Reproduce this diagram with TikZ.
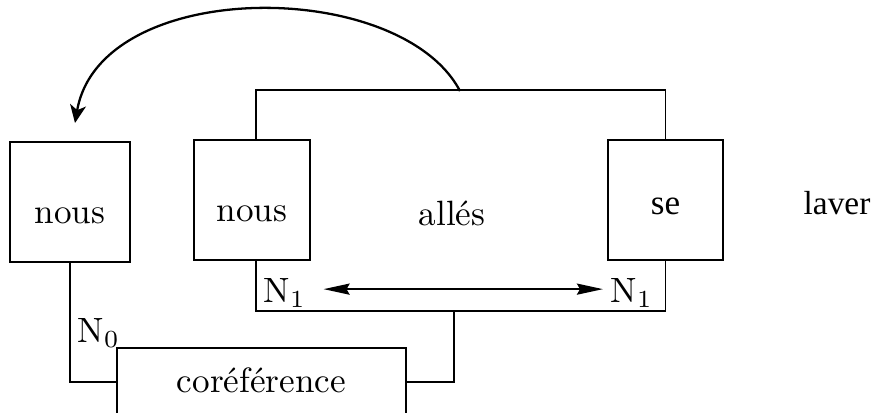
\documentclass[tikz,border=0pt]{standalone}
\usepackage{fontspec}
\newfontfamily\timesfont{Liberation Serif}
\usetikzlibrary{arrows.meta}

\begin{document}
\begin{tikzpicture}[
    wordbox/.style={draw=black, line width=0.5pt, minimum width=1.2cm, minimum height=1.2cm, inner sep=0pt, text height=0.42cm, text depth=0pt},
    wire/.style={line width=0.5pt, draw=black},
    linkarrow/.style={line width=0.65pt, draw=black, {Stealth[length=2.6mm,width=1.1mm,inset=0.3mm]}-{Stealth[length=2.6mm,width=1.1mm,inset=0.3mm]}},
    backarrow/.style={line width=0.65pt, draw=black, -{Stealth[length=1.8mm,width=1.6mm,inset=0.5mm]}},
    word/.style={inner sep=0pt, anchor=base},
    indexlabel/.style={inner sep=0pt, anchor=base west}
]
    \useasboundingbox (0,0) rectangle (8.75,4.12);

    % Boxes of the clause
    \node[wordbox] (nous0) at (0.70, 2.10) {nous};
    \node[wordbox, minimum width=1.16cm] (nous1) at (2.52, 2.12) {nous};
    \node[wordbox, minimum width=1.15cm, text height=0.28cm, font=\timesfont] (se) at (6.655, 2.12) {se};

    % Free words
    \node[word] (alles) at (4.52, 1.87) {allés};
    \node[word, font=\timesfont\fontsize{9.5}{11}\selectfont] (laver) at (8.37, 1.98) {laver};

    % Bracket above nous ... se
    \draw[wire] ([xshift=0.04cm]nous1.north) -- ++(0,0.49) -| (se.north);

    % Bracket below nous ... se
    \draw[wire] ([xshift=0.04cm]nous1.south) -- ++(0,-0.50) -| (se.south);

    % Indices N1 and the arrow between them
    \node[indexlabel] (n1l) at (2.63, 1.10) {N$_1$};
    \node[indexlabel] (n1r) at (6.10, 1.10) {N$_1$};
    \draw[linkarrow, shorten <=1.7mm, shorten >=0.7mm] ([yshift=0.35mm]n1l.east) -- ([yshift=0.35mm]n1r.west);

    % Coreference box
    \node[wordbox, minimum width=2.89cm, minimum height=0.68cm, text height=0.2cm] (coref) at (2.615, 0.30) {coréférence};
    \node[indexlabel] (n0) at (0.77, 0.70) {N$_0$};
    \draw[wire] (nous0.south) |- (coref.west);
    \coordinate (bmid) at (4.54, 1.02);
    \draw[wire] (coref.east) -| (bmid);

    % Curved arrow back to the first nous
    \coordinate (arcfrom) at (4.60, 3.21);
    \coordinate (arcto) at (0.75, 2.89);
    \draw[backarrow] (arcfrom) .. controls (4.0, 4.35) and (1.0, 4.35) .. (arcto);

\end{tikzpicture}
\end{document}
